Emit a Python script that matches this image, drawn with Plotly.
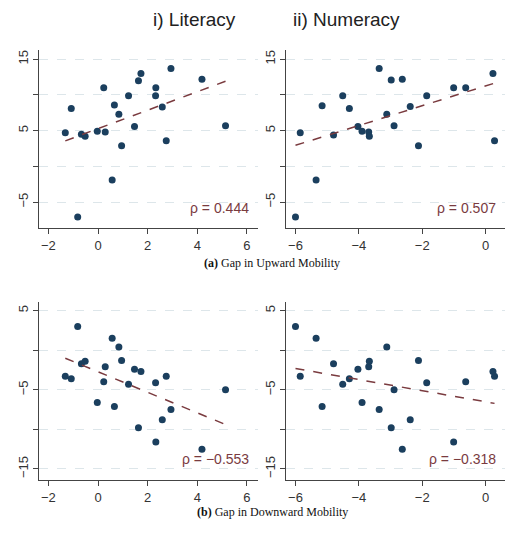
import numpy as np
import plotly.graph_objects as go
from plotly.subplots import make_subplots

lit_x = [-1.32, -1.08, -0.67, -0.52, -0.82, -0.03, 0.29, 0.23, 0.57, 0.66, 0.84, 0.95,
         1.23, 1.47, 1.63, 1.73, 2.33, 2.32, 2.59, 2.75, 2.94, 4.19, 5.14]
lit_up = [4.7, 8.1, 4.5, 4.2, -7.1, 4.9, 4.8, 11.0, -1.9, 8.6, 7.3, 2.9,
          9.9, 5.6, 12.0, 13.0, 11.0, 9.9, 8.3, 3.6, 13.7, 12.2, 5.7]
lit_down = [-3.3, -3.6, -1.7, -1.4, 3.0, -6.6, -2.1, -4.0, 1.5, -7.1, 0.4, -1.3,
            -4.3, -2.4, -9.8, -2.7, -11.6, -4.1, -8.8, -3.3, -7.5, -12.5, -5.0]

num_x = [-6.0, -5.85, -5.35, -5.16, -4.80, -4.51, -4.30, -4.03, -3.90, -3.69, -3.67, -3.36,
         -3.12, -2.98, -2.89, -2.63, -2.38, -2.12, -1.86, -1.01, -0.63, 0.23, 0.28]
num_up = [-7.1, 4.7, -1.9, 8.5, 4.4, 9.9, 8.1, 5.6, 4.9, 4.8, 4.2, 13.7,
          7.3, 12.1, 5.7, 12.2, 8.4, 2.9, 9.9, 11.0, 11.0, 13.0, 3.6]
num_down = [3.0, -3.3, 1.5, -7.1, -1.7, -4.3, -3.6, -2.4, -6.6, -2.1, -1.4, -7.5,
            0.4, -9.8, -5.0, -12.5, -8.8, -1.3, -4.1, -11.6, -4.0, -2.7, -3.3]

rho = ["ρ = 0.444", "ρ = 0.507", "ρ = −0.553", "ρ = −0.318"]

DOT = "#1b3f5e"
RED = "#7a3b3f"

fig = make_subplots(rows=2, cols=2, horizontal_spacing=0.06, vertical_spacing=0.17)

panels = [(lit_x, lit_up, 1, 1), (num_x, num_up, 1, 2),
          (lit_x, lit_down, 2, 1), (num_x, num_down, 2, 2)]
for i, (x, y, r, c) in enumerate(panels):
    fig.add_trace(go.Scatter(x=x, y=y, mode="markers",
                             marker=dict(color=DOT, size=7)), row=r, col=c)
    b, a = np.polyfit(x, y, 1)
    xs = np.array([min(x), max(x)])
    fig.add_trace(go.Scatter(x=xs, y=a + b * xs, mode="lines",
                             line=dict(color=RED, dash="dash", width=1.5)), row=r, col=c)
    fig.add_annotation(text=rho[i], xref=f"x{i+1 if i else ''} domain", yref=f"y{i+1 if i else ''} domain",
                       x=0.97, y=0.06, xanchor="right", yanchor="bottom", showarrow=False,
                       font=dict(color=RED, size=14))

fig.update_xaxes(showline=True, linecolor="#444", ticks="outside", showgrid=False,
                 zeroline=False, tickfont=dict(size=13, color="#333"))
fig.update_xaxes(range=[-2.38, 6.45], tickvals=[-2, 0, 2, 4, 6], col=1)
fig.update_xaxes(range=[-6.3, 0.61], tickvals=[-6, -4, -2, 0], col=2)
fig.update_yaxes(showline=True, linecolor="#444", ticks="outside", zeroline=False,
                 showgrid=True, gridcolor="#dde6ea", griddash="dash", tickangle=-90,
                 tickfont=dict(size=13, color="#333"))
fig.update_yaxes(range=[-8.7, 16.3], tickvals=[-5, 0, 5, 10, 15],
                 ticktext=["−5", "", "5", "", "15"], row=1)
fig.update_yaxes(range=[-16.4, 6.15], tickvals=[-15, -10, -5, 0, 5],
                 ticktext=["−15", "", "−5", "", "5"], row=2)

fig.add_annotation(text="i) Literacy", xref="paper", yref="paper", x=0.24, y=1.1,
                   showarrow=False, font=dict(size=19, color="#222"))
fig.add_annotation(text="ii) Numeracy", xref="paper", yref="paper", x=0.78, y=1.1,
                   showarrow=False, font=dict(size=19, color="#222"))
fig.add_annotation(text="<b>(a)</b> Gap in Upward Mobility", xref="paper", yref="paper",
                   x=0.5, y=0.505, showarrow=False,
                   font=dict(family="Liberation Serif", size=12, color="#111"))
fig.add_annotation(text="<b>(b)</b> Gap in Downward Mobility", xref="paper", yref="paper",
                   x=0.5, y=-0.095, showarrow=False,
                   font=dict(family="Liberation Serif", size=12, color="#111"))

fig.update_layout(width=505, height=530, showlegend=False, plot_bgcolor="white",
                  paper_bgcolor="white", font=dict(family="Liberation Sans"),
                  margin=dict(l=24, r=8, t=42, b=58))
fig.write_html("out.html")
